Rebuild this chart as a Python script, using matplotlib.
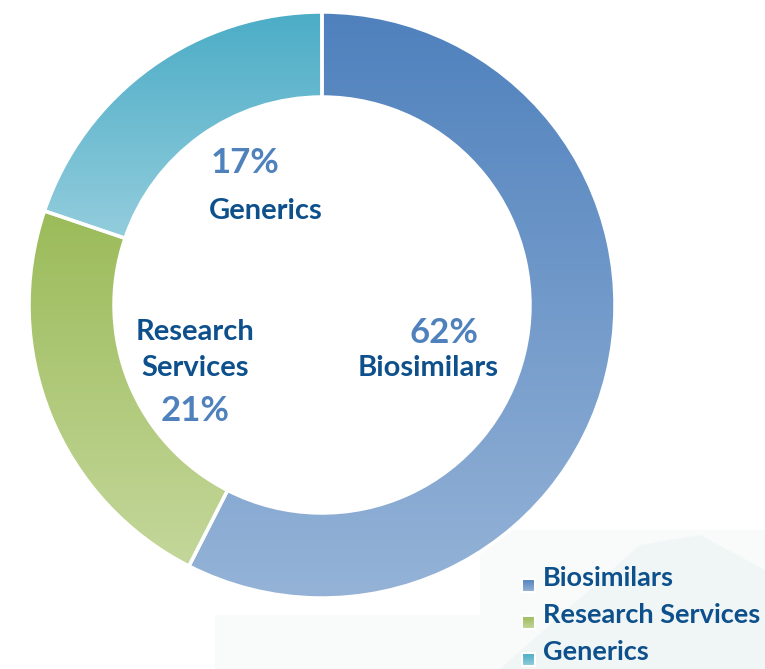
import numpy as np
import matplotlib
matplotlib.use('Agg')
import matplotlib.pyplot as plt
from matplotlib.colors import LinearSegmentedColormap
from matplotlib.patches import Rectangle, Polygon

# data
categories = ['Biosimilars', 'Research Services', 'Generics']
shares = [57.5, 22.7, 19.8]           # wedge sizes as drawn
pct_labels = ['62%', '21%', '17%']    # numbers printed on the chart
inner_names = ['Biosimilars', 'Research\nServices', 'Generics']
top_colors = ['#4F81BD', '#9BBB59', '#4BACC6']
bottom_colors = ['#95B3D7', '#C4D79B', '#93CDDD']

W, H = 765, 669
PCT_COLOR = '#4F81BD'
NAME_COLOR = '#0D508C'
FONT = ['Lato', 'DejaVu Sans']

fig = plt.figure(figsize=(W / 100, H / 100), dpi=100)
ax = fig.add_axes([0, 0, 1, 1])


def py(y):
    # pixel row (from top) -> data y
    return H - y


# faint background picture in the lower right
ax.add_patch(Rectangle((215, 0), W - 215, py(615), color='#f9fbfb', zorder=0, lw=0))
ax.add_patch(Rectangle((480, 0), W - 480, py(530), color='#f9fbfb', zorder=0, lw=0))
ax.add_patch(Polygon([(500, 0), (640, py(545)), (700, py(535)), (765, py(570)), (765, 0)],
                     closed=True, color='#f0f6f6', zorder=0, lw=0))

wedges, _ = ax.pie(shares, center=(322, py(305)), radius=293, startangle=90,
                   counterclock=False,
                   wedgeprops=dict(width=85, edgecolor='white', linewidth=2.5))

grad = np.linspace(0, 1, 256).reshape(-1, 1)
for w, c0, c1 in zip(wedges, top_colors, bottom_colors):
    w.set_facecolor('none')
    w.set_zorder(3)
    bb = w.get_path().get_extents()
    cmap = LinearSegmentedColormap.from_list('g', [c0, c1])
    im = ax.imshow(grad, cmap=cmap, aspect='auto', origin='upper',
                   extent=[bb.x0, bb.x1, bb.y0, bb.y1], zorder=2)
    im.set_clip_path(w)

# labels inside the ring
pct_pos = [(444, 333), (195, 411), (245, 163)]
name_pos = [(428, 368), (195, 350), (266, 211)]
for pct, (x, y) in zip(pct_labels, pct_pos):
    ax.text(x, py(y), pct, color=PCT_COLOR, fontsize=25, fontweight='bold',
            ha='center', va='center', family=FONT, zorder=5)
for name, (x, y) in zip(inner_names, name_pos):
    ax.text(x, py(y), name, color=NAME_COLOR, fontsize=21, fontweight='bold',
            ha='center', va='center', family=FONT, linespacing=1.5, zorder=5)

# legend
for i, (cat, c0, c1) in enumerate(zip(categories, top_colors, bottom_colors)):
    yc = 578 + 37 * i
    sq = Rectangle((522, py(yc + 14)), 13, 13, facecolor='none',
                   edgecolor='white', lw=1.5, zorder=4)
    ax.add_patch(sq)
    cmap = LinearSegmentedColormap.from_list('g', [c0, c1])
    ax.imshow(grad, cmap=cmap, aspect='auto', origin='upper',
              extent=[522, 535, py(yc + 14), py(yc + 1)], zorder=3)
    ax.text(543, py(yc), cat, color=NAME_COLOR, fontsize=19.5, fontweight='bold',
            ha='left', va='center', family=FONT, zorder=5)

ax.set_xlim(0, W)
ax.set_ylim(0, H)
ax.axis('off')
fig.savefig('out.png', dpi=100)
